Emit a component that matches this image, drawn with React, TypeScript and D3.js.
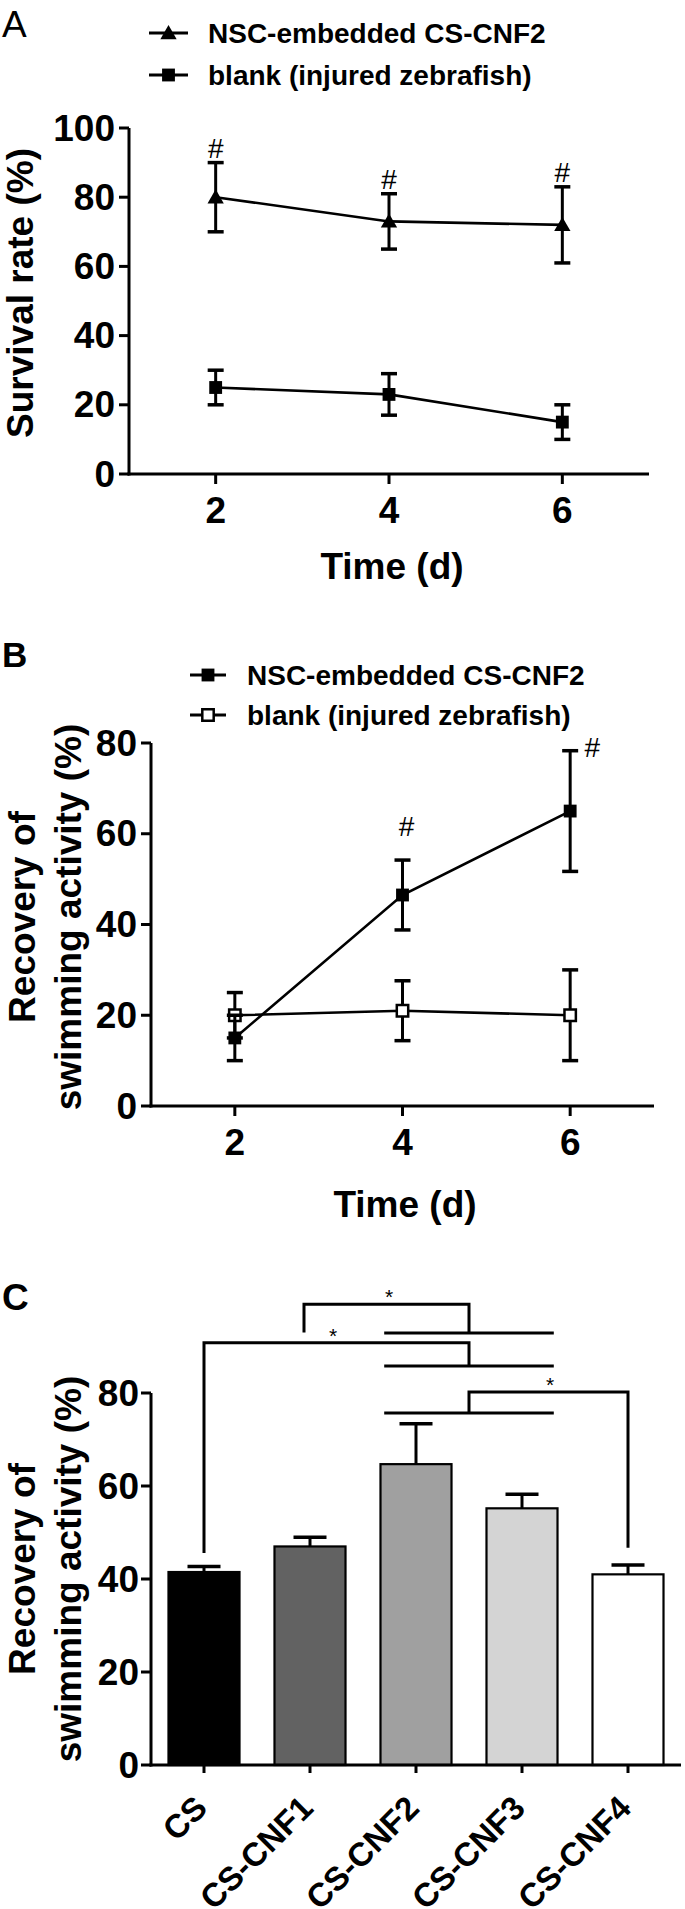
import React from "react";
import * as d3 from "d3";

// ---------- Data ----------
const daysA = [2, 4, 6];
const survivalNSC = [80, 73, 72];
const survivalNSCErr = [10, 8, 11];
const survivalBlank = [25, 23, 15];
const survivalBlankErr = [5, 6, 5];
const yTicksA = [0, 20, 40, 60, 80, 100];
const xTicksAB = [2, 4, 6];
const sigA = ["#", "#", "#"];

const daysB = [2, 4, 6];
const recoveryNSC = [15, 46.5, 65];
const recoveryNSCErr = [5, 7.7, 13.3];
const recoveryBlank = [20, 21, 20];
const recoveryBlankErr = [5, 6.6, 10];
const yTicksBC = [0, 20, 40, 60, 80];
const sigB = ["", "#", "#"];

const groupsC = ["CS", "CS-CNF1", "CS-CNF2", "CS-CNF3", "CS-CNF4"];
const valuesC = [41.5, 47, 64.7, 55.2, 41];
const errC = [1.2, 2, 8.7, 3, 2];
const fillsC = ["#000000", "#626262", "#a0a0a0", "#d4d4d4", "#ffffff"];

const legendLabels = ["NSC-embedded CS-CNF2", "blank (injured zebrafish)"];

const FONT = "'Liberation Sans', Arial, Helvetica, sans-serif";

// ---------- Scales ----------
const xA = d3.scaleLinear().domain([1, 7]).range([129, 649]);
const yA = d3.scaleLinear().domain([0, 100]).range([474, 128]);
const xB = d3.scaleLinear().domain([1, 7]).range([151, 654]);
const yB = d3.scaleLinear().domain([0, 80]).range([1106, 743]);
const xC = d3
  .scaleBand<string>()
  .domain(groupsC)
  .range([151, 681])
  .paddingInner(0.33)
  .paddingOuter(0.165);
const yC = d3.scaleLinear().domain([0, 80]).range([1765, 1393]);

const triPath = d3.symbol().type(d3.symbolTriangle).size(115)()!;
const sqPath = d3.symbol().type(d3.symbolSquare).size(165)()!;
const openSqPath = d3.symbol().type(d3.symbolSquare).size(130)()!;

function Marker({ x, y, kind }: { x: number; y: number; kind: string }) {
  if (kind === "tri")
    return <path d={triPath} transform={`translate(${x},${y + 1.5})`} fill="#000" />;
  if (kind === "sq")
    return <path d={sqPath} transform={`translate(${x},${y})`} fill="#000" />;
  return (
    <path
      d={openSqPath}
      transform={`translate(${x},${y})`}
      fill="#fff"
      stroke="#000"
      strokeWidth={2.5}
    />
  );
}

function ErrBar({ x, y1, y2, cap = 8 }: { x: number; y1: number; y2: number; cap?: number }) {
  return (
    <g stroke="#000">
      <line x1={x} x2={x} y1={y1} y2={y2} strokeWidth={3} />
      <line x1={x - cap} x2={x + cap} y1={y1} y2={y1} strokeWidth={3.5} />
      <line x1={x - cap} x2={x + cap} y1={y2} y2={y2} strokeWidth={3.5} />
    </g>
  );
}

function Series({
  xs, vals, errs, xS, yS, kind,
}: {
  xs: number[]; vals: number[]; errs: number[];
  xS: d3.ScaleLinear<number, number>; yS: d3.ScaleLinear<number, number>; kind: string;
}) {
  const line = d3
    .line<number>()
    .x((_, i) => xS(xs[i]))
    .y((d) => yS(d));
  return (
    <g>
      {vals.map((v, i) => (
        <ErrBar key={"e" + i} x={xS(xs[i])} y1={yS(v + errs[i])} y2={yS(v - errs[i])} />
      ))}
      <path d={line(vals)!} fill="none" stroke="#000" strokeWidth={2.6} />
      {vals.map((v, i) => (
        <Marker key={"m" + i} x={xS(xs[i])} y={yS(v)} kind={kind} />
      ))}
    </g>
  );
}

function YAxis({ x, yS, ticks, gap = 13 }: { x: number; yS: d3.ScaleLinear<number, number>; ticks: number[]; gap?: number }) {
  const [d0, d1] = yS.domain();
  return (
    <g>
      <line x1={x} x2={x} y1={yS(d0) + 1.5} y2={yS(d1)} stroke="#000" strokeWidth={3} />
      {ticks.map((t) => (
        <g key={t}>
          <line x1={x - 10} x2={x} y1={yS(t)} y2={yS(t)} stroke="#000" strokeWidth={3} />
          <text
            x={x - gap}
            y={yS(t)}
            textAnchor="end"
            dominantBaseline="central"
            fontFamily={FONT}
            fontWeight="bold"
            fontSize={37}
          >
            {t}
          </text>
        </g>
      ))}
    </g>
  );
}

function XAxisLinear({ y, xS, ticks }: { y: number; xS: d3.ScaleLinear<number, number>; ticks: number[] }) {
  const [r0, r1] = xS.range();
  return (
    <g>
      <line x1={r0 - 1.5} x2={r1} y1={y} y2={y} stroke="#000" strokeWidth={3} />
      {ticks.map((t) => (
        <g key={t}>
          <line x1={xS(t)} x2={xS(t)} y1={y} y2={y + 10} stroke="#000" strokeWidth={3} />
          <text
            x={xS(t)}
            y={y + 49}
            textAnchor="middle"
            fontFamily={FONT}
            fontWeight="bold"
            fontSize={37}
          >
            {t}
          </text>
        </g>
      ))}
    </g>
  );
}

function Legend({
  x1, x2, tx, ys, kinds,
}: { x1: number; x2: number; tx: number; ys: number[]; kinds: string[] }) {
  return (
    <g>
      {legendLabels.map((lab, i) => (
        <g key={lab}>
          <line x1={x1} x2={x2} y1={ys[i]} y2={ys[i]} stroke="#000" strokeWidth={3} />
          <Marker x={(x1 + x2) / 2} y={ys[i]} kind={kinds[i]} />
          <text
            x={tx}
            y={ys[i]}
            dominantBaseline="central"
            fontFamily={FONT}
            fontWeight="bold"
            fontSize={28}
          >
            {lab}
          </text>
        </g>
      ))}
    </g>
  );
}

function Bracket({ pts }: { pts: [number, number][] }) {
  return (
    <polyline
      points={pts.map((p) => p.join(",")).join(" ")}
      fill="none"
      stroke="#000"
      strokeWidth={3}
    />
  );
}

export default function App() {
  const c = (g: string) => xC(g)! + xC.bandwidth() / 2;
  const grpMid = (c("CS-CNF2") + c("CS-CNF3")) / 2;
  const grpHalf = xC.step() * 0.8;
  const star = (x: number, y: number, k: string) => (
    <text key={k} x={x} y={y + 6} textAnchor="middle" fontFamily={FONT} fontSize={21}>
      *
    </text>
  );
  return (
    <svg
      width={685}
      height={1909}
      style={{ position: "absolute", left: 0, top: 0, background: "#fff" }}
    >
      <rect width={685} height={1909} fill="#fff" />

      {/* ---------- Panel A ---------- */}
      <text x={2} y={37} fontFamily={FONT} fontSize={37}>A</text>
      <Legend x1={149} x2={188} tx={208} ys={[33, 75]} kinds={["tri", "sq"]} />
      <YAxis x={129} yS={yA} ticks={yTicksA} gap={14} />
      <XAxisLinear y={474} xS={xA} ticks={xTicksAB} />
      <Series xs={daysA} vals={survivalNSC} errs={survivalNSCErr} xS={xA} yS={yA} kind="tri" />
      <Series xs={daysA} vals={survivalBlank} errs={survivalBlankErr} xS={xA} yS={yA} kind="sq" />
      {sigA.map((s, i) => (
        <text
          key={"sa" + i}
          x={xA(daysA[i])}
          y={yA(survivalNSC[i] + survivalNSCErr[i]) - 5}
          textAnchor="middle"
          fontFamily={FONT}
          fontSize={28}
        >
          {s}
        </text>
      ))}
      <text
        transform="translate(33,293) rotate(-90)"
        textAnchor="middle"
        fontFamily={FONT}
        fontWeight="bold"
        fontSize={37}
      >
        Survival rate (%)
      </text>
      <text x={392} y={579} textAnchor="middle" fontFamily={FONT} fontWeight="bold" fontSize={37}>
        Time (d)
      </text>

      {/* ---------- Panel B ---------- */}
      <text x={2} y={667} fontFamily={FONT} fontWeight="bold" fontSize={35}>B</text>
      <Legend x1={190} x2={226} tx={247} ys={[675, 715]} kinds={["sq", "open"]} />
      <YAxis x={151} yS={yB} ticks={yTicksBC} gap={14} />
      <XAxisLinear y={1106} xS={xB} ticks={xTicksAB} />
      <Series xs={daysB} vals={recoveryBlank} errs={recoveryBlankErr} xS={xB} yS={yB} kind="open" />
      <Series xs={daysB} vals={recoveryNSC} errs={recoveryNSCErr} xS={xB} yS={yB} kind="sq" />
      {sigB.map((s, i) =>
        s ? (
          <text
            key={"sb" + i}
            x={i === 2 ? xB(daysB[i]) + 22 : xB(daysB[i]) + 4}
            y={i === 2 ? yB(recoveryNSC[i] + recoveryNSCErr[i]) + 6 : yB(recoveryNSC[i] + recoveryNSCErr[i]) - 24}
            textAnchor="middle"
            fontFamily={FONT}
            fontSize={28}
          >
            {s}
          </text>
        ) : null
      )}
      <text transform="translate(35,917) rotate(-90)" textAnchor="middle" fontFamily={FONT} fontWeight="bold" fontSize={37}>
        Recovery of
      </text>
      <text transform="translate(81,917) rotate(-90)" textAnchor="middle" fontFamily={FONT} fontWeight="bold" fontSize={37}>
        swimming activity (%)
      </text>
      <text x={405} y={1217} textAnchor="middle" fontFamily={FONT} fontWeight="bold" fontSize={37}>
        Time (d)
      </text>

      {/* ---------- Panel C ---------- */}
      <text x={2} y={1310} fontFamily={FONT} fontWeight="bold" fontSize={37}>C</text>
      {groupsC.map((g, i) => (
        <g key={g}>
          <line
            x1={c(g)}
            x2={c(g)}
            y1={yC(valuesC[i])}
            y2={yC(valuesC[i] + errC[i])}
            stroke="#000"
            strokeWidth={3}
          />
          <line
            x1={c(g) - 16.5}
            x2={c(g) + 16.5}
            y1={yC(valuesC[i] + errC[i])}
            y2={yC(valuesC[i] + errC[i])}
            stroke="#000"
            strokeWidth={3.5}
          />
          <rect
            x={xC(g)!}
            y={yC(valuesC[i])}
            width={xC.bandwidth()}
            height={yC(0) - yC(valuesC[i])}
            fill={fillsC[i]}
            stroke="#000"
            strokeWidth={2.2}
          />
        </g>
      ))}
      <YAxis x={151} yS={yC} ticks={yTicksBC} gap={12} />
      <line x1={149.5} x2={681} y1={1765} y2={1765} stroke="#000" strokeWidth={3} />
      {groupsC.map((g) => (
        <g key={"t" + g}>
          <line x1={c(g)} x2={c(g)} y1={1765} y2={1773} stroke="#000" strokeWidth={3} />
          <text
            transform={`translate(${c(g) + 5},${1765 + 45}) rotate(-45)`}
            textAnchor="end"
            fontFamily={FONT}
            fontWeight="bold"
            fontSize={33}
          >
            {g}
          </text>
        </g>
      ))}
      {/* significance brackets */}
      <Bracket pts={[[c("CS-CNF1") - 6, yC(93)], [c("CS-CNF1") - 6, yC(99.1)], [grpMid, yC(99.1)], [grpMid, yC(92.9)]]} />
      <line x1={grpMid - grpHalf} x2={grpMid + grpHalf} y1={yC(92.9)} y2={yC(92.9)} stroke="#000" strokeWidth={3} />
      {star(389, yC(99.1) - 6, "s1")}
      <Bracket pts={[[c("CS"), yC(45.6)], [c("CS"), yC(90.8)], [grpMid, yC(90.8)], [grpMid, yC(85.8)]]} />
      <line x1={grpMid - grpHalf} x2={grpMid + grpHalf} y1={yC(85.8)} y2={yC(85.8)} stroke="#000" strokeWidth={3} />
      {star(333, yC(90.8) - 6, "s2")}
      <Bracket pts={[[grpMid, yC(75.7)], [grpMid, yC(80.2)], [c("CS-CNF4"), yC(80.2)], [c("CS-CNF4"), yC(46.7)]]} />
      <line x1={grpMid - grpHalf} x2={grpMid + grpHalf} y1={yC(75.7)} y2={yC(75.7)} stroke="#000" strokeWidth={3} />
      {star(550, yC(80.2) - 6, "s3")}
      <text transform="translate(35,1569) rotate(-90)" textAnchor="middle" fontFamily={FONT} fontWeight="bold" fontSize={37}>
        Recovery of
      </text>
      <text transform="translate(81,1569) rotate(-90)" textAnchor="middle" fontFamily={FONT} fontWeight="bold" fontSize={37}>
        swimming activity (%)
      </text>
    </svg>
  );
}
